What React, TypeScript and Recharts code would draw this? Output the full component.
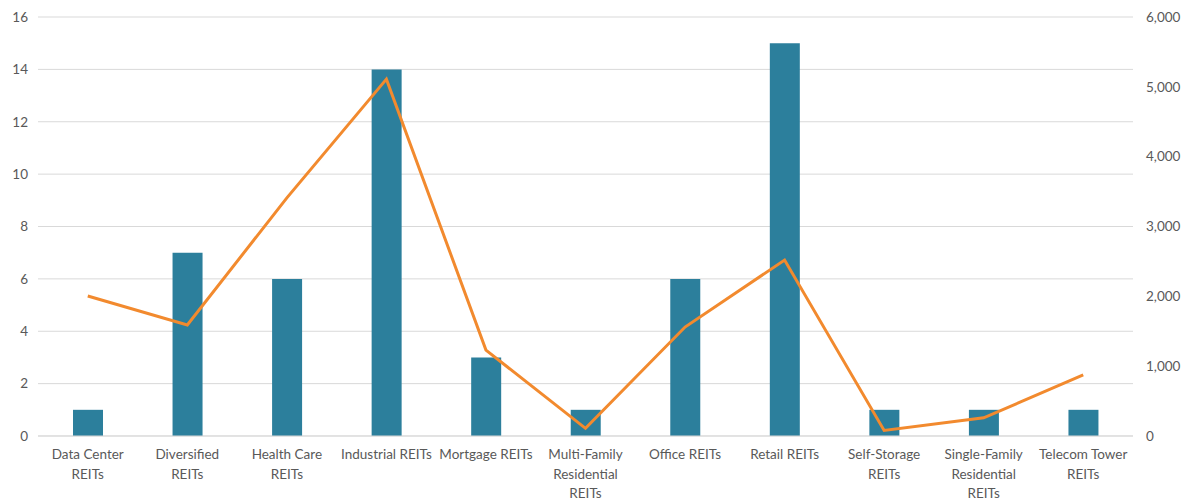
import { ComposedChart, Bar, Line, XAxis, YAxis, CartesianGrid } from 'recharts';

const categories = [
  'Data Center\nREITs',
  'Diversified\nREITs',
  'Health Care\nREITs',
  'Industrial REITs',
  'Mortgage REITs',
  'Multi-Family\nResidential\nREITs',
  'Office REITs',
  'Retail REITs',
  'Self-Storage\nREITs',
  'Single-Family\nResidential\nREITs',
  'Telecom Tower\nREITs',
];
const counts = [1, 7, 6, 14, 3, 1, 6, 15, 1, 1, 1];
const lineValues = [2005, 1590, 3410, 5110, 1230, 110, 1560, 2520, 80, 260, 875];
const leftTicks = [0, 2, 4, 6, 8, 10, 12, 14, 16];
const rightTicks = [0, 1000, 2000, 3000, 4000, 5000, 6000];

const data = categories.map((name, i) => ({ name, count: counts[i], value: lineValues[i] }));

const FONT = 'Lato, "Open Sans", sans-serif';
const TXT = '#595959';

function CatTick({ x, y, payload }: any) {
  const lines = String(payload.value).split('\n');
  return (
    <text x={x} y={y} textAnchor="middle" fill={TXT} fontSize={13.5} fontFamily={FONT}>
      {lines.map((l, i) => (
        <tspan key={i} x={x} dy={i === 0 ? 15 : 19.5}>{l}</tspan>
      ))}
    </text>
  );
}

export default function App() {
  return (
    <div style={{ position: 'absolute', left: 0, top: 0, background: '#fff' }}>
      <ComposedChart width={1196} height={500} data={data} margin={{ top: 17, right: 8, bottom: 4, left: 8 }}>
        <CartesianGrid yAxisId="left" vertical={false} stroke="#d9d9d9" />
        <XAxis dataKey="name" interval={0} tick={<CatTick />} tickLine={false} axisLine={{ stroke: '#d9d9d9' }} height={60} />
        <YAxis
          yAxisId="left"
          domain={[0, 16]}
          ticks={leftTicks}
          width={30}
          axisLine={false}
          tickLine={false}
          tick={{ fill: TXT, fontSize: 13.5, fontFamily: FONT, dx: -2 }}
        />
        <YAxis
          yAxisId="right"
          orientation="right"
          domain={[0, 6000]}
          ticks={rightTicks}
          width={55}
          axisLine={false}
          tickLine={false}
          tickFormatter={(v: number) => v.toLocaleString('en-US')}
          tick={{ fill: TXT, fontSize: 13.5, fontFamily: FONT, dx: 5 }}
        />
        <Bar yAxisId="left" dataKey="count" fill="#2C7F9C" barSize={30} isAnimationActive={false} />
        <Line yAxisId="right" dataKey="value" stroke="#F28A2E" strokeWidth={3} dot={false} type="linear" isAnimationActive={false} />
      </ComposedChart>
    </div>
  );
}
